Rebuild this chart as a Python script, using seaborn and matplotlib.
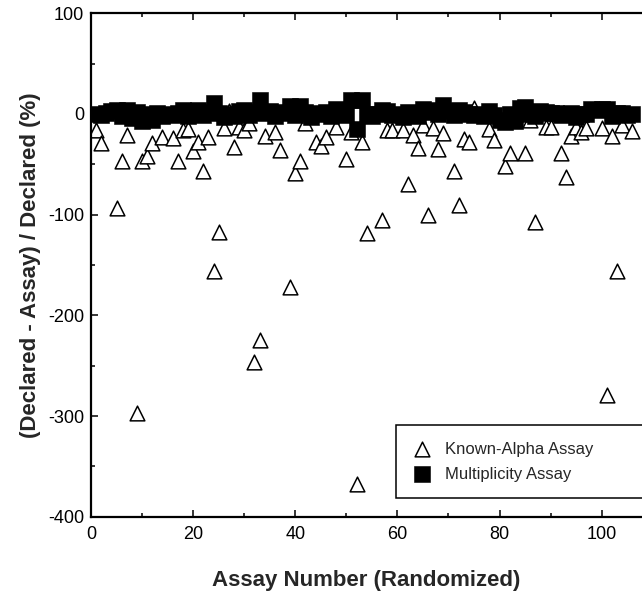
import numpy as np
import pandas as pd
import matplotlib
matplotlib.use("Agg")
import matplotlib.pyplot as plt
import seaborn as sns
from matplotlib.ticker import MultipleLocator

# Known-Alpha assay: assay number and (Declared - Assay)/Declared in %
alpha_assay_no = [1, 2, 5, 6, 7, 9, 10, 11, 12, 14, 16, 17, 18, 19, 20, 21, 22, 23,
                  24, 25, 26, 27, 28, 29, 30, 31, 32, 33, 34, 36, 37, 39, 40, 41,
                  42, 44, 45, 46, 48, 50, 51, 52, 53, 54, 57, 58, 59, 61, 62, 63,
                  64, 65, 66, 67, 68, 69, 71, 72, 73, 74, 75, 78, 79, 81, 82, 85,
                  86, 87, 89, 90, 92, 93, 94, 95, 96, 97, 100, 101, 102, 103, 104, 106]
alpha_diff = [-16, -29, -93, -47, -21, -297, -47, -42, -29, -23, -24, -47, -16, -15,
              -37, -28, -57, -23, -156, -117, -14, 3, -33, -13, -16, -9, -246, -224,
              -22, -18, -36, -172, -59, -47, -9, -28, -32, -23, -13, -45, -18, -368,
              -28, -118, -105, -16, -16, -16, -70, -21, -34, -11, -100, -14, -35, -19,
              -57, -90, -25, -28, 6, -15, -26, -52, -39, -39, -6, -107, -13, -13, -39,
              -63, -22, -13, -18, -14, -14, -279, -22, -156, -11, -17]

# Multiplicity assay
mult_assay_no = list(range(1, 107))
mult_diff = [0, -1, 1, 3, 4, -2, 4, -4, 2, -7, 0, -6, 1, -2, 0, -1, 1, 4, -2, 3,
             4, -1, 2, 11, 1, -3, 0, -2, 3, 4, -1, 2, 14, 1, 3, -2, 2, 1, 8, -1,
             8, 2, -3, 1, 0, 2, -2, 5, 3, -1, 14, -15, 14, 0, -2, 0, 4, 3, -1, 0,
             -3, 2, 1, -2, 5, 4, 2, 0, 9, 3, -1, 4, 2, 0, -1, 0, -2, 3, -1, -6,
             -8, 0, -7, 6, 7, 0, -2, 3, 2, 1, 1, -1, 0, 1, -3, 0, 0, 5, 4, 5,
             5, -2, 1, 1, -1, 0]

x_ticks = [0, 20, 40, 60, 80, 100]
y_ticks = [-400, -300, -200, -100, 0, 100]

sns.set_style("ticks")
plt.rcParams['font.family'] = ['Liberation Sans', 'DejaVu Sans']
plt.rcParams['axes.unicode_minus'] = False

W, H = 642, 593
fig = plt.figure(figsize=(W / 100, H / 100), dpi=100)
left_px, right_px, top_px, bot_px = 91, 642, 13.3, 516.7
ax = fig.add_axes([left_px / W, (H - bot_px) / H, (right_px - left_px) / W, (bot_px - top_px) / H])

df_a = pd.DataFrame({"n": alpha_assay_no, "d": alpha_diff})
df_m = pd.DataFrame({"n": mult_assay_no, "d": mult_diff})

sns.scatterplot(data=df_a, x="n", y="d", marker="^", s=112, color="white",
                edgecolor="black", linewidth=1.1, ax=ax, label="Known-Alpha Assay", zorder=2)
sns.scatterplot(data=df_m, x="n", y="d", marker="s", s=118, color="black",
                edgecolor="black", linewidth=0.4, ax=ax, label="Multiplicity Assay", zorder=3)

ax.set_xlim(0, (right_px - left_px) / 5.107)
ax.set_ylim(-400, 100)
ax.set_xticks(x_ticks)
ax.set_yticks(y_ticks)
ax.xaxis.set_minor_locator(MultipleLocator(10))
ax.yaxis.set_minor_locator(MultipleLocator(50))
ax.tick_params(which="both", direction="in", top=True, right=False, width=1.1, colors="black")
ax.tick_params(which="major", length=5)
ax.tick_params(which="minor", length=2.8)
ax.tick_params(axis="x", which="major", labelsize=13, pad=7)
ax.tick_params(axis="y", which="major", labelsize=13, pad=5)
for s in ["left", "bottom", "top"]:
    ax.spines[s].set_linewidth(1.6)
    ax.spines[s].set_color("black")
ax.spines["right"].set_visible(False)

ax.set_xlabel("Assay Number (Randomized)", fontsize=16, fontweight="bold")
ax.set_ylabel("(Declared - Assay) / Declared (%)", fontsize=16, fontweight="bold")
ax.xaxis.set_label_coords(0.5, -0.126)
ax.yaxis.set_label_coords((31 - left_px) / (right_px - left_px), 0.5)
ax.xaxis.label.set_verticalalignment("center")
ax.yaxis.label.set_verticalalignment("center")

x0 = (396 - left_px) / (right_px - left_px)
y0 = (bot_px - 425) / (bot_px - top_px)
leg = ax.legend(loc="upper left", bbox_to_anchor=(x0, 0.0, 0.6, y0), mode="expand",
                borderaxespad=0, fontsize=12, frameon=True, fancybox=False,
                framealpha=1, edgecolor="black", borderpad=1.0, handlelength=1.1,
                handletextpad=0.85, labelspacing=0.6)
leg.get_frame().set_linewidth(1.1)

fig.savefig("out.png", dpi=100)
